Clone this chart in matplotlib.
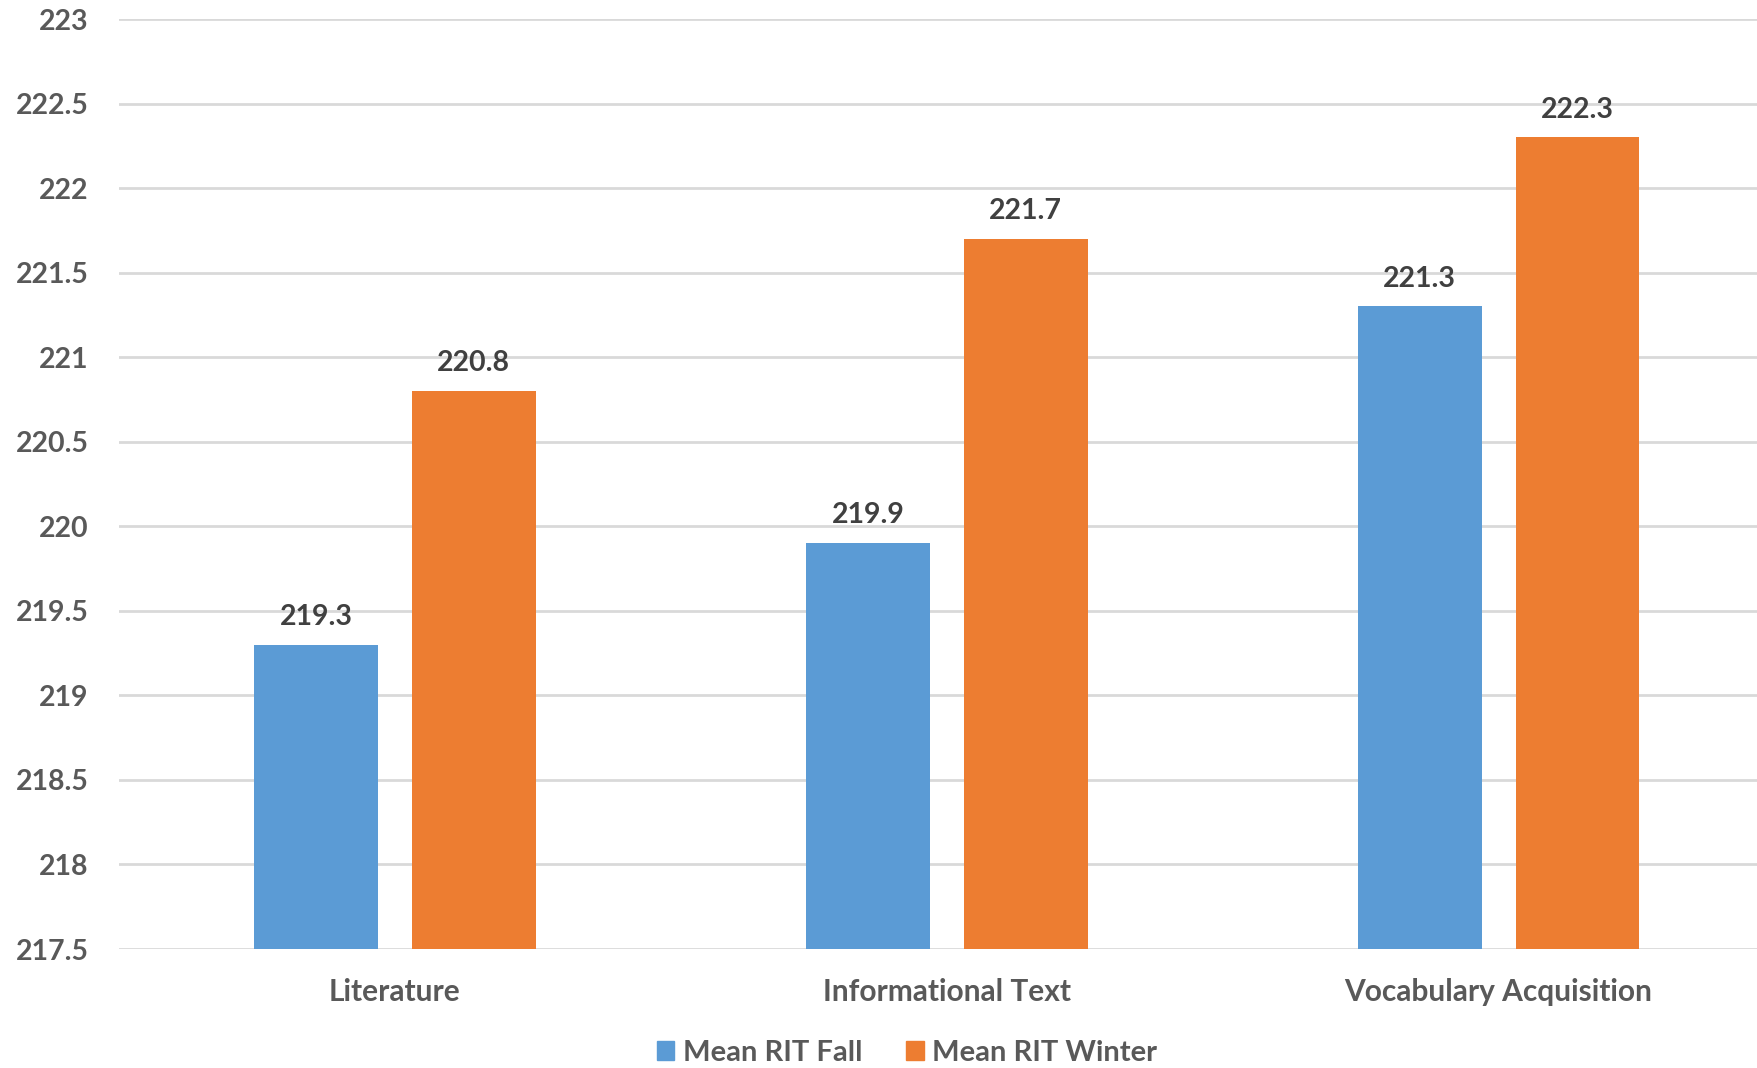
import matplotlib
matplotlib.use("Agg")
import matplotlib.pyplot as plt
import numpy as np
from matplotlib.patches import Patch

categories = ["Literature", "Informational Text", "Vocabulary Acquisition"]
fall = [219.3, 219.9, 221.3]
winter = [220.8, 221.7, 222.3]
series_names = ["Mean RIT Fall", "Mean RIT Winter"]
yticks = [217.5, 218, 218.5, 219, 219.5, 220, 220.5, 221, 221.5, 222, 222.5, 223]

BLUE = "#5B9BD5"
ORANGE = "#ED7D31"
FONT = ["Lato", "DejaVu Sans"]

W, H = 1757, 1068
fig = plt.figure(figsize=(W / 100, H / 100), dpi=100)
left, right = 119, 1774.5
top, bottom = 19, 949
ax = fig.add_axes([left / W, (H - bottom) / H, (right - left) / W, (bottom - top) / H])

x = np.arange(len(categories))
bw = 0.2246
off = 0.143
base = 217.5
ax.bar(x - off, np.array(fall) - base, bottom=base, width=bw, color=BLUE, zorder=3)
ax.bar(x + off, np.array(winter) - base, bottom=base, width=bw, color=ORANGE, zorder=3)

for xs, vals in ((x - off, fall), (x + off, winter)):
    for xi, v in zip(xs, vals):
        ax.annotate(f"{v:.1f}", (xi, v), xytext=(0, 20), textcoords="offset points",
                    ha="center", va="center", fontsize=20.5, fontweight="bold",
                    color="#404040", family=FONT)

ax.set_xlim(-0.5, 2.5)
ax.set_ylim(217.5, 223)
ax.set_yticks(yticks)
ax.set_yticklabels([f"{t:g}" for t in yticks])
ax.set_xticks(x)
ax.set_xticklabels(categories)
for lab in ax.get_yticklabels():
    lab.set_fontsize(20.5)
    lab.set_fontweight("bold")
    lab.set_color("#595959")
    lab.set_family(FONT)
for lab in ax.get_xticklabels():
    lab.set_fontsize(21.5)
    lab.set_fontweight("bold")
    lab.set_color("#595959")
    lab.set_family(FONT)
ax.tick_params(axis="y", length=0, pad=22)
ax.tick_params(axis="x", length=0, pad=21)
ax.grid(axis="y", color="#D9D9D9", linewidth=2, zorder=0)
for s in ax.spines.values():
    s.set_visible(False)

handles = [Patch(color=BLUE), Patch(color=ORANGE)]
leg = fig.legend(handles, series_names, loc="center", bbox_to_anchor=(907 / W, 1 - 1053 / H),
                 ncol=2, frameon=False, handlelength=0.6, handleheight=0.6,
                 handletextpad=0.3, columnspacing=1.5,
                 prop={"family": FONT, "weight": "bold", "size": 21})
for t in leg.get_texts():
    t.set_color("#595959")

fig.savefig("out.png", dpi=100)
